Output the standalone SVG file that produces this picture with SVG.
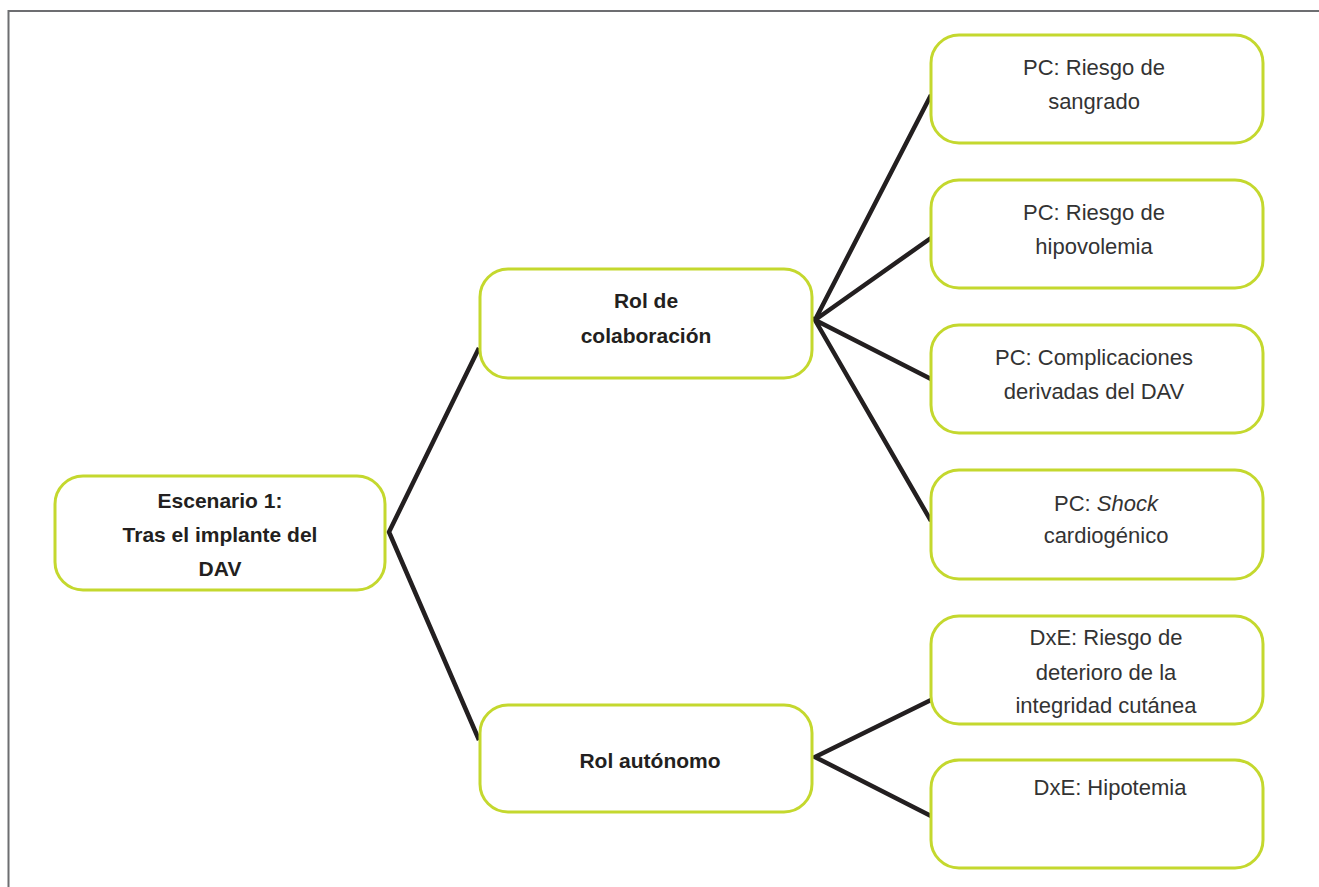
<svg xmlns="http://www.w3.org/2000/svg" width="1319" height="887" viewBox="0 0 1319 887">
<style>
.frame{fill:none;stroke:#6d6e71;stroke-width:2}
.node{fill:#fff;stroke:#c4d82e;stroke-width:3}
.conn{fill:none;stroke:#231f20;stroke-width:4.5;stroke-linejoin:miter}
.b{font-family:"Liberation Sans",Arial,sans-serif;font-weight:bold;font-size:21px;fill:#231f20;text-anchor:middle}
.r{font-family:"Liberation Sans",Arial,sans-serif;font-size:22px;fill:#333;text-anchor:middle}
</style>
<rect width="1319" height="887" fill="#fff"/>
<path class="frame" d="M8.5 887 V11 H1319"/>
<g id="connectors">
<polyline class="conn" points="479,348 389,532 479,740"/>
<polyline class="conn" points="931,95 815,320 931,238"/>
<polyline class="conn" points="931,379 815,320 931,521"/>
<polyline class="conn" points="931,700 815,757 931,816"/>
</g>
<g id="escenario">
<rect class="node" x="55" y="476" width="330" height="114" rx="28"/>
<text class="b" x="220" y="508">Escenario 1:</text>
<text class="b" x="220" y="542">Tras el implante del</text>
<text class="b" x="220" y="576">DAV</text>
</g>
<g id="rol-colaboracion">
<rect class="node" x="480" y="269" width="332" height="109" rx="28"/>
<text class="b" x="646" y="308">Rol de</text>
<text class="b" x="646" y="343">colaboración</text>
</g>
<g id="rol-autonomo">
<rect class="node" x="480" y="705" width="332" height="107" rx="28"/>
<text class="b" x="650" y="768">Rol autónomo</text>
</g>
<g id="pc-sangrado">
<rect class="node" x="931" y="35" width="332" height="108" rx="28"/>
<text class="r" x="1094" y="75">PC: Riesgo de</text>
<text class="r" x="1094" y="109">sangrado</text>
</g>
<g id="pc-hipovolemia">
<rect class="node" x="931" y="180" width="332" height="108" rx="28"/>
<text class="r" x="1094" y="220">PC: Riesgo de</text>
<text class="r" x="1094" y="254">hipovolemia</text>
</g>
<g id="pc-complicaciones">
<rect class="node" x="931" y="325" width="332" height="108" rx="28"/>
<text class="r" x="1094" y="365">PC: Complicaciones</text>
<text class="r" x="1094" y="399">derivadas del DAV</text>
</g>
<g id="pc-shock">
<rect class="node" x="931" y="470" width="332" height="109" rx="28"/>
<text class="r" x="1106" y="511">PC: <tspan font-style="italic">Shock</tspan></text>
<text class="r" x="1106" y="543">cardiogénico</text>
</g>
<g id="dxe-integridad">
<rect class="node" x="931" y="616" width="332" height="108" rx="28"/>
<text class="r" x="1106" y="645">DxE: Riesgo de</text>
<text class="r" x="1106" y="680">deterioro de la</text>
<text class="r" x="1106" y="713">integridad cutánea</text>
</g>
<g id="dxe-hipotemia">
<rect class="node" x="931" y="760" width="332" height="108" rx="28"/>
<text class="r" x="1110" y="795">DxE: Hipotemia</text>
</g>
</svg>
